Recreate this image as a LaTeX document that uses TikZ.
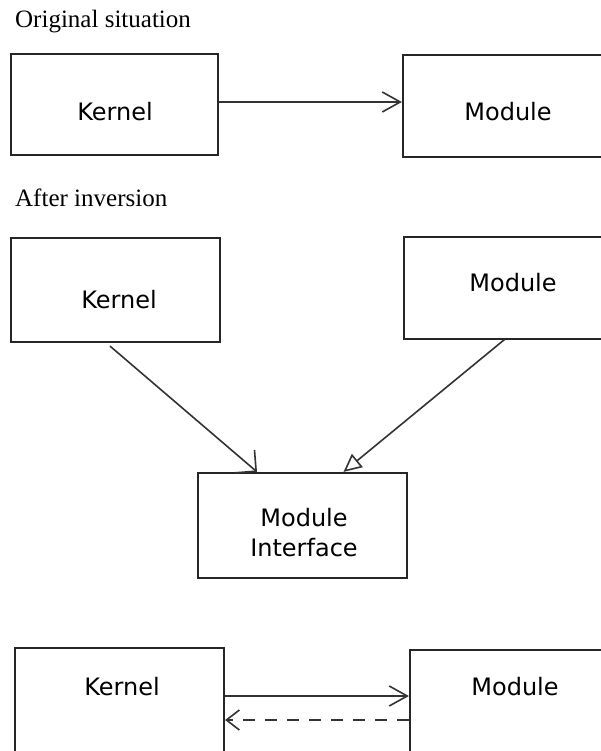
\documentclass[tikz,border=0pt]{standalone}
\usepackage{fontspec}
\setmainfont{Liberation Serif}
\newfontfamily\boxfont{DejaVu Sans}
\usetikzlibrary{arrows.meta}
\begin{document}
\begin{tikzpicture}[x=1pt,y=-1pt,
  box/.style={draw=black!85,line width=2.2pt,inner sep=0pt},
  lbl/.style={font=\boxfont\fontsize{24}{30}\selectfont,text=black,inner sep=0pt,align=center},
  title/.style={font=\fontsize{25}{30}\selectfont,text=black,inner sep=0pt,anchor=base west},
  conn/.style={draw=black!80,line width=1.6pt},
  barb/.style={-{Straight Barb[length=18pt,width=20pt]}},
  widebarb/.style={-{Straight Barb[length=15pt,width=30pt]}},
  realize/.style={-{Triangle[open,length=18pt,width=17pt,fill=white]}},
  depend/.style={dash pattern=on 12pt off 10pt,-{Straight Barb[length=13pt,width=20pt]}}
]
\useasboundingbox (0,0) rectangle (601,751);
\fill[white] (0,0) rectangle (601,751);
\clip (0,0) rectangle (601,751);

% titles
\node[title] (t1) at (15,28) {Original situation};
\node[title] (t2) at (15,207) {After inversion};

% original situation
\node[box,minimum width=207pt,minimum height=101pt,
  label={[lbl,xshift=0.5pt,yshift=-7.5pt]center:Kernel}] (k1) at (114.5,104.5) {};
\node[box,minimum width=217pt,minimum height=102pt,
  label={[lbl,xshift=-3.5pt,yshift=-6pt]center:Module}] (m1) at (511.5,106) {};
\draw[conn,barb] (k1.east |- 0,102) -- (m1.west |- 0,102);

% after inversion
\node[box,minimum width=209pt,minimum height=104pt,
  label={[lbl,xshift=3.5pt,yshift=-10pt]center:Kernel}] (k2) at (115.5,290) {};
\node[box,minimum width=216pt,minimum height=102pt,
  label={[lbl,xshift=1pt,yshift=5pt]center:Module}] (m2) at (512,288) {};
\node[box,minimum width=209pt,minimum height=105pt,
  label={[lbl,xshift=1.5pt,yshift=-7.5pt]center:Module\\Interface}] (mi) at (302.5,525.5) {};
\draw[conn,widebarb] ([xshift=-5.5pt,yshift=-3pt]k2.south) -- ([xshift=-45.5pt]mi.north);
\draw[conn,realize] ([xshift=-7pt,yshift=1pt]m2.south) -- ([xshift=41pt]mi.north);

% bottom
\node[box,minimum width=209pt,minimum height=132pt,
  label={[lbl,xshift=2.5pt,yshift=27pt]center:Kernel}] (k3) at (119.5,714) {};
\node[box,minimum width=210pt,minimum height=130pt,
  label={[lbl,xshift=0pt,yshift=28pt]center:Module}] (m3) at (515,715) {};
\draw[conn,barb] (k3.east |- 0,696) -- (m3.west |- 0,696);
\draw[conn,depend] (m3.west |- 0,720) -- (k3.east |- 0,720);
\end{tikzpicture}
\end{document}
